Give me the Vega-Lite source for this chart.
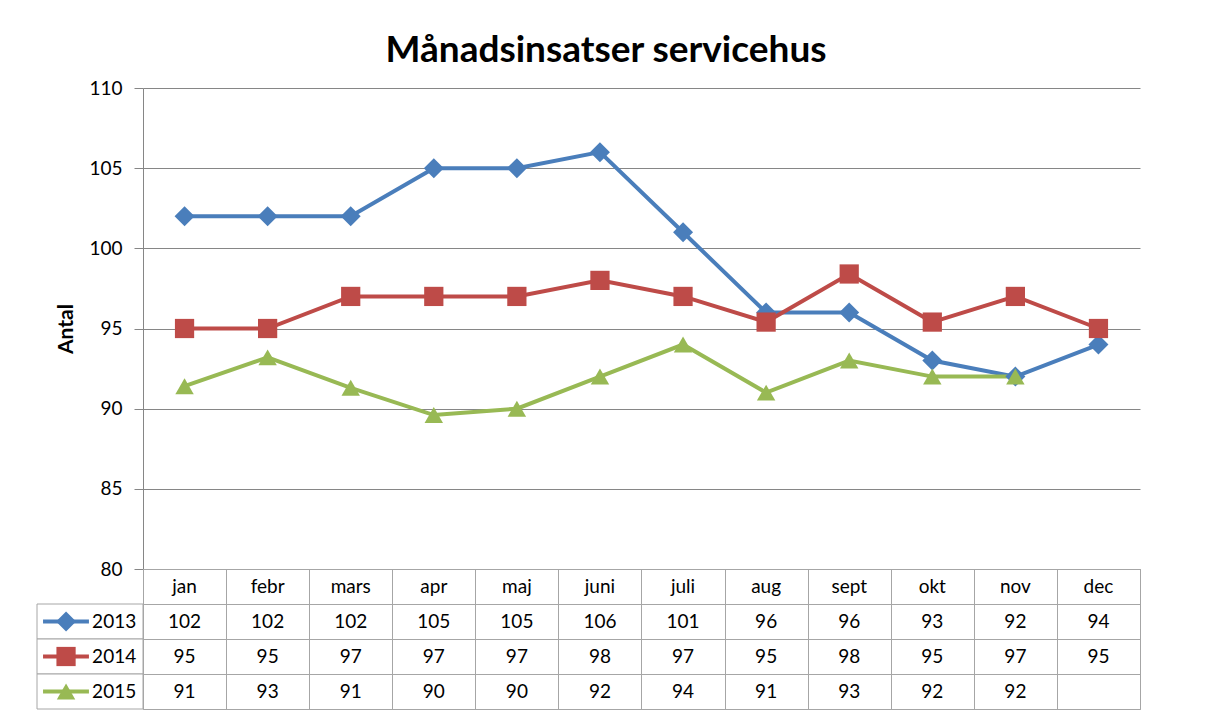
{
  "$schema": "https://vega.github.io/schema/vega-lite/v6.json",
  "background": "white",
  "padding": {"left": 36, "top": 32, "right": 0, "bottom": 0},
  "title": {"text": "Månadsinsatser servicehus", "font": "Lato", "fontSize": 37, "fontWeight": "bold", "color": "#000000", "anchor": "start", "offset": 9, "dx": 349},
  "datasets": {
    "main": [
      {"month": "jan", "year": "2013", "value": 102},
      {"month": "febr", "year": "2013", "value": 102},
      {"month": "mars", "year": "2013", "value": 102},
      {"month": "apr", "year": "2013", "value": 105},
      {"month": "maj", "year": "2013", "value": 105},
      {"month": "juni", "year": "2013", "value": 106},
      {"month": "juli", "year": "2013", "value": 101},
      {"month": "aug", "year": "2013", "value": 96},
      {"month": "sept", "year": "2013", "value": 96},
      {"month": "okt", "year": "2013", "value": 93},
      {"month": "nov", "year": "2013", "value": 92},
      {"month": "dec", "year": "2013", "value": 94},
      {"month": "jan", "year": "2014", "value": 95},
      {"month": "febr", "year": "2014", "value": 95},
      {"month": "mars", "year": "2014", "value": 97},
      {"month": "apr", "year": "2014", "value": 97},
      {"month": "maj", "year": "2014", "value": 97},
      {"month": "juni", "year": "2014", "value": 98},
      {"month": "juli", "year": "2014", "value": 97},
      {"month": "aug", "year": "2014", "value": 95.4},
      {"month": "sept", "year": "2014", "value": 98.4},
      {"month": "okt", "year": "2014", "value": 95.4},
      {"month": "nov", "year": "2014", "value": 97},
      {"month": "dec", "year": "2014", "value": 95},
      {"month": "jan", "year": "2015", "value": 91.4},
      {"month": "febr", "year": "2015", "value": 93.2},
      {"month": "mars", "year": "2015", "value": 91.3},
      {"month": "apr", "year": "2015", "value": 89.6},
      {"month": "maj", "year": "2015", "value": 90},
      {"month": "juni", "year": "2015", "value": 92},
      {"month": "juli", "year": "2015", "value": 94},
      {"month": "aug", "year": "2015", "value": 91},
      {"month": "sept", "year": "2015", "value": 93},
      {"month": "okt", "year": "2015", "value": 92},
      {"month": "nov", "year": "2015", "value": 92}
    ]
  },
  "columns": 2,
  "spacing": 0,
  "bounds": "flush",
  "resolve": {"scale": {"x": "independent", "y": "independent"}},
  "concat": [
    {
      "width": 106,
      "height": 481,
      "data": {"values": [{}]},
      "mark": {"type": "point", "opacity": 0},
      "view": {"stroke": null}
    },
    {
      "width": 997,
      "height": 481,
      "data": {"name": "main"},
      "view": {"stroke": null},
      "encoding": {
        "x": {"field": "month", "type": "ordinal", "sort": ["jan", "febr", "mars", "apr", "maj", "juni", "juli", "aug", "sept", "okt", "nov", "dec"], "scale": {"type": "point", "padding": 0.5}, "axis": null},
        "y": {"field": "value", "type": "quantitative", "scale": {"domain": [80, 110], "nice": false, "zero": false},
          "axis": {"title": "Antal", "values": [80, 85, 90, 95, 100, 105, 110], "grid": true, "gridColor": "#868686", "gridOpacity": 1, "domainColor": "#868686", "tickColor": "#868686", "tickSize": 9, "labelPadding": 12, "labelFont": "Lato", "labelFontSize": 19, "labelColor": "#000000", "titleFont": "Lato", "titleFontSize": 21, "titleFontWeight": "bold", "titleColor": "#000000", "titlePadding": 12}},
        "color": {"field": "year", "type": "nominal", "scale": {"domain": ["2013", "2014", "2015"], "range": ["#4A7EBB", "#BE4B48", "#98B954"]}, "legend": null}
      },
      "layer": [
        {"mark": {"type": "line", "strokeWidth": 4}},
        {"mark": {"type": "point", "filled": true, "opacity": 1},
          "encoding": {
            "shape": {"field": "year", "type": "nominal", "scale": {"domain": ["2013", "2014", "2015"], "range": ["diamond", "square", "triangle-up"]}, "legend": null},
            "size": {"field": "year", "type": "ordinal", "scale": {"domain": ["2013", "2014", "2015"], "range": [400, 340, 440]}, "legend": null}
          }}
      ]
    },
    {
      "width": 106,
      "height": 140,
      "data": {"name": "main"},
      "transform": [{"filter": "datum.month == 'jan'"}],
      "view": {"stroke": null},
      "encoding": {
        "y": {"field": "year", "type": "nominal", "scale": {"domain": ["h", "2013", "2014", "2015"], "paddingInner": 0, "paddingOuter": 0}, "axis": null}
      },
      "layer": [
        {"mark": {"type": "rect", "fill": "white", "stroke": "#A6A6A6", "strokeWidth": 1}},
        {"mark": {"type": "rule", "strokeWidth": 4},
          "encoding": {
            "x": {"datum": 0.057, "type": "quantitative", "scale": {"domain": [0, 1]}, "axis": null},
            "x2": {"datum": 0.49},
            "color": {"field": "year", "type": "nominal", "legend": null}
          }},
        {"mark": {"type": "point", "filled": true, "opacity": 1},
          "encoding": {
            "x": {"datum": 0.274, "type": "quantitative"},
            "color": {"field": "year", "type": "nominal", "legend": null},
            "shape": {"field": "year", "type": "nominal", "legend": null},
            "size": {"field": "year", "type": "ordinal", "scale": {"domain": ["2013", "2014", "2015"], "range": [120, 170, 200]}, "legend": null}
          }},
        {"mark": {"type": "text", "align": "left", "baseline": "middle", "font": "Lato", "fontSize": 19, "color": "#000000"},
          "encoding": {
            "x": {"datum": 0.52, "type": "quantitative"},
            "text": {"field": "year"}
          }}
      ]
    },
    {
      "width": 997,
      "height": 140,
      "data": {"name": "main"},
      "view": {"stroke": "#A6A6A6"},
      "encoding": {
        "x": {"field": "month", "type": "nominal", "sort": ["jan", "febr", "mars", "apr", "maj", "juni", "juli", "aug", "sept", "okt", "nov", "dec"], "scale": {"paddingInner": 0, "paddingOuter": 0},
          "axis": {"grid": true, "tickBand": "extent", "gridColor": "#A6A6A6", "gridOpacity": 1, "labels": false, "ticks": false, "domain": false, "title": null}},
        "y": {"field": "year", "type": "nominal", "scale": {"domain": ["h", "2013", "2014", "2015"], "paddingInner": 0, "paddingOuter": 0},
          "axis": {"grid": true, "tickBand": "extent", "gridColor": "#A6A6A6", "gridOpacity": 1, "labels": false, "ticks": false, "domain": false, "title": null}}
      },
      "layer": [
        {"mark": {"type": "text", "align": "center", "baseline": "middle", "font": "Lato", "fontSize": 19, "color": "#000000"},
          "encoding": {"text": {"field": "value", "type": "quantitative", "format": ".0f"}}},
        {"transform": [{"filter": "datum.year == '2013'"}],
          "mark": {"type": "text", "align": "center", "baseline": "middle", "font": "Lato", "fontSize": 19, "color": "#000000"},
          "encoding": {"y": {"datum": "h", "type": "nominal"}, "text": {"field": "month"}}}
      ]
    }
  ],
  "config": {"view": {"stroke": null}, "font": "Lato"}
}
